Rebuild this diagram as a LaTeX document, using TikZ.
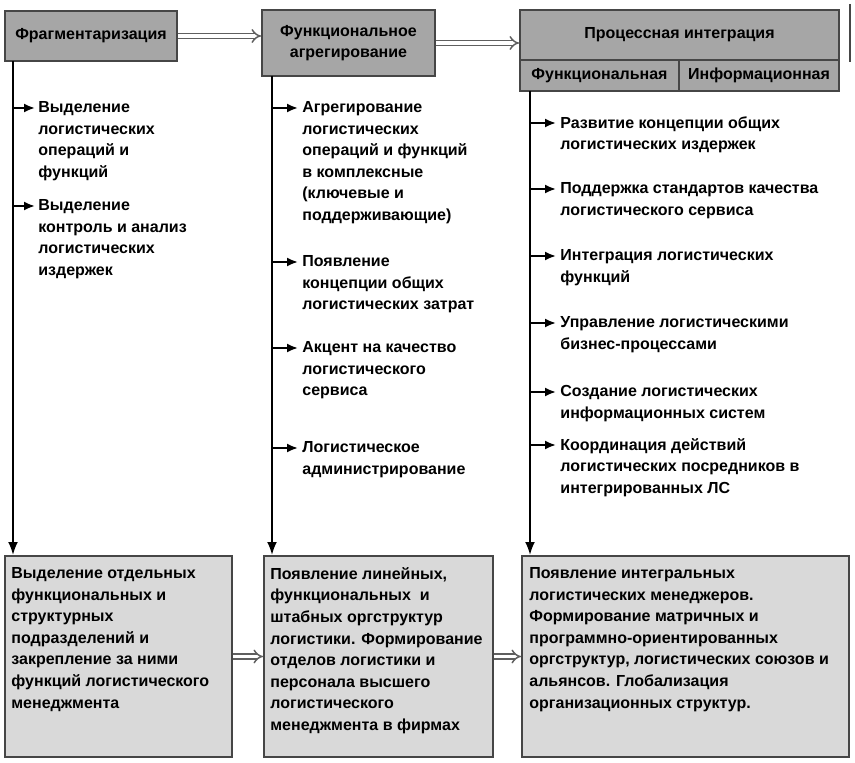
\documentclass[tikz,border=0pt]{standalone}
\usepackage{fontspec}
\setmainfont{Liberation Sans}
\usetikzlibrary{arrows.meta}
\definecolor{headgray}{RGB}{166,166,166}
\definecolor{boxgray}{RGB}{217,217,217}
\definecolor{edgegray}{RGB}{70,70,70}
\definecolor{dblgray}{RGB}{95,95,95}

\begin{document}
\begin{tikzpicture}[
  x=0.5pt, y=-0.5pt,
  head/.style={rectangle, draw=edgegray, line width=1pt, fill=headgray, align=center,
               inner sep=0pt, font=\bfseries\fontsize{8}{10.8}\selectfont},
  stage/.style={rectangle, draw=edgegray, line width=1pt, fill=boxgray, minimum height=100.5pt},
  item/.style={anchor=north west, inner sep=0pt, align=left, font=\bfseries\fontsize{8}{10.8}\selectfont},
  bul/.style={-{Latex[length=5.5pt,width=4.5pt]}, line width=1pt},
  down/.style={-{Latex[length=6.5pt,width=5pt]}, line width=1pt},
  dbl/.style={-{Implies}, draw=dblgray, double=white, double distance=1.6pt, line width=0.75pt}
]
  \useasboundingbox (0,0) rectangle (855,763);

  % Stages
  \node[head, minimum width=86pt, minimum height=25pt] (frag) at (91,36) {Фрагментаризация};
  \node[head, minimum width=86.5pt, minimum height=33pt] (agr) at (348.5,43) {Функциональное\\агрегирование};
  \node[head, minimum width=159.5pt, minimum height=25pt] (proc) at (679.5,35) {Процессная интеграция};
  \node[head, minimum width=79.5pt, minimum height=15.5pt] (func) at (599.5,75.5) {Функциональная};
  \node[head, minimum width=80pt, minimum height=15.5pt] (inf) at (759,75.5) {Информационная};
  \draw[edgegray, line width=0.6pt] (850,4) -- (850,62);

  % Transitions
  \draw[dbl] (frag.east) -- (frag.east -| agr.west);
  \draw[dbl] (agr.east) -- (agr.east -| proc.west);

  % Results
  \node[stage, minimum width=113.5pt] (bA) at (118.5,656.5) {};
  \node[stage, minimum width=114.5pt] (bB) at (378.5,656.5) {};
  \node[stage, minimum width=163.5pt] (bC) at (685.5,656.5) {};
  \node[item] (tA) at ([shift={(7,12)}]bA.north west) {Выделение отдельных\\функциональных и\\структурных\\подразделений и\\закрепление за ними\\функций логистического\\менеджмента};
  \node[item] (tB) at ([shift={(7,12)}]bB.north west) {Появление линейных,\\функциональных~ и\\штабных оргструктур\\логистики. Формирование\\отделов логистики и\\персонала высшего\\логистического\\менеджмента в фирмах};
  \node[item] (tC) at ([shift={(8,12)}]bC.north west) {Появление интегральных\\логистических менеджеров.\\Формирование матричных и\\программно-ориентированных\\оргструктур, логистических союзов и\\альянсов. Глобализация\\организационных структур.};
  \draw[dbl] (bA.east) -- (bB.west);
  \draw[dbl] (bB.east) -- (bC.west);

  % Lifelines
  \coordinate (c1) at (13,61);
  \coordinate (c2) at (272,76);
  \coordinate (c3) at (530,91);
  \draw[down] (c1) -- (c1 |- bA.north);
  \draw[down] (c2) -- (c2 |- bB.north);
  \draw[down] (c3) -- (c3 |- bC.north);

  % Items
  \node[item] (i11) at (38,101) {Выделение\\логистических\\операций и\\функций};
  \node[item] (i12) at (38,199) {Выделение\\контроль и анализ\\логистических\\издержек};
  \node[item] (i21) at (302,101) {Агрегирование\\логистических\\операций и функций\\в комплексные\\(ключевые и\\поддерживающие)};
  \node[item] (i22) at (302,255) {Появление\\концепции общих\\логистических затрат};
  \node[item] (i23) at (302,341) {Акцент на качество\\логистического\\сервиса};
  \node[item] (i24) at (302,441) {Логистическое\\администрирование};
  \node[item] (i31) at (560,116) {Развитие концепции общих\\логистических издержек};
  \node[item] (i32) at (560,182) {Поддержка стандартов качества\\логистического сервиса};
  \node[item] (i33) at (560,249) {Интеграция логистических\\функций};
  \node[item] (i34) at (560,316) {Управление логистическими\\бизнес-процессами};
  \node[item] (i35) at (560,385) {Создание логистических\\информационных систем};
  \node[item] (i36) at (560,438) {Координация действий\\логистических посредников в\\интегрированных ЛС};

  \draw[bul] ([yshift=-3.5pt]i11.north west -| c1) -- ([yshift=-3.5pt,xshift=-1.5pt]i11.north west);
  \draw[bul] ([yshift=-3.5pt]i12.north west -| c1) -- ([yshift=-3.5pt,xshift=-1.5pt]i12.north west);
  \draw[bul] ([yshift=-3.5pt]i21.north west -| c2) -- ([yshift=-3.5pt,xshift=-2pt]i21.north west);
  \draw[bul] ([yshift=-3.5pt]i22.north west -| c2) -- ([yshift=-3.5pt,xshift=-2pt]i22.north west);
  \draw[bul] ([yshift=-3.5pt]i23.north west -| c2) -- ([yshift=-3.5pt,xshift=-2pt]i23.north west);
  \draw[bul] ([yshift=-3.5pt]i24.north west -| c2) -- ([yshift=-3.5pt,xshift=-2pt]i24.north west);
  \draw[bul] ([yshift=-3.5pt]i31.north west -| c3) -- ([yshift=-3.5pt,xshift=-2pt]i31.north west);
  \draw[bul] ([yshift=-3.5pt]i32.north west -| c3) -- ([yshift=-3.5pt,xshift=-2pt]i32.north west);
  \draw[bul] ([yshift=-3.5pt]i33.north west -| c3) -- ([yshift=-3.5pt,xshift=-2pt]i33.north west);
  \draw[bul] ([yshift=-3.5pt]i34.north west -| c3) -- ([yshift=-3.5pt,xshift=-2pt]i34.north west);
  \draw[bul] ([yshift=-3.5pt]i35.north west -| c3) -- ([yshift=-3.5pt,xshift=-2pt]i35.north west);
  \draw[bul] ([yshift=-3.5pt]i36.north west -| c3) -- ([yshift=-3.5pt,xshift=-2pt]i36.north west);
\end{tikzpicture}
\end{document}
